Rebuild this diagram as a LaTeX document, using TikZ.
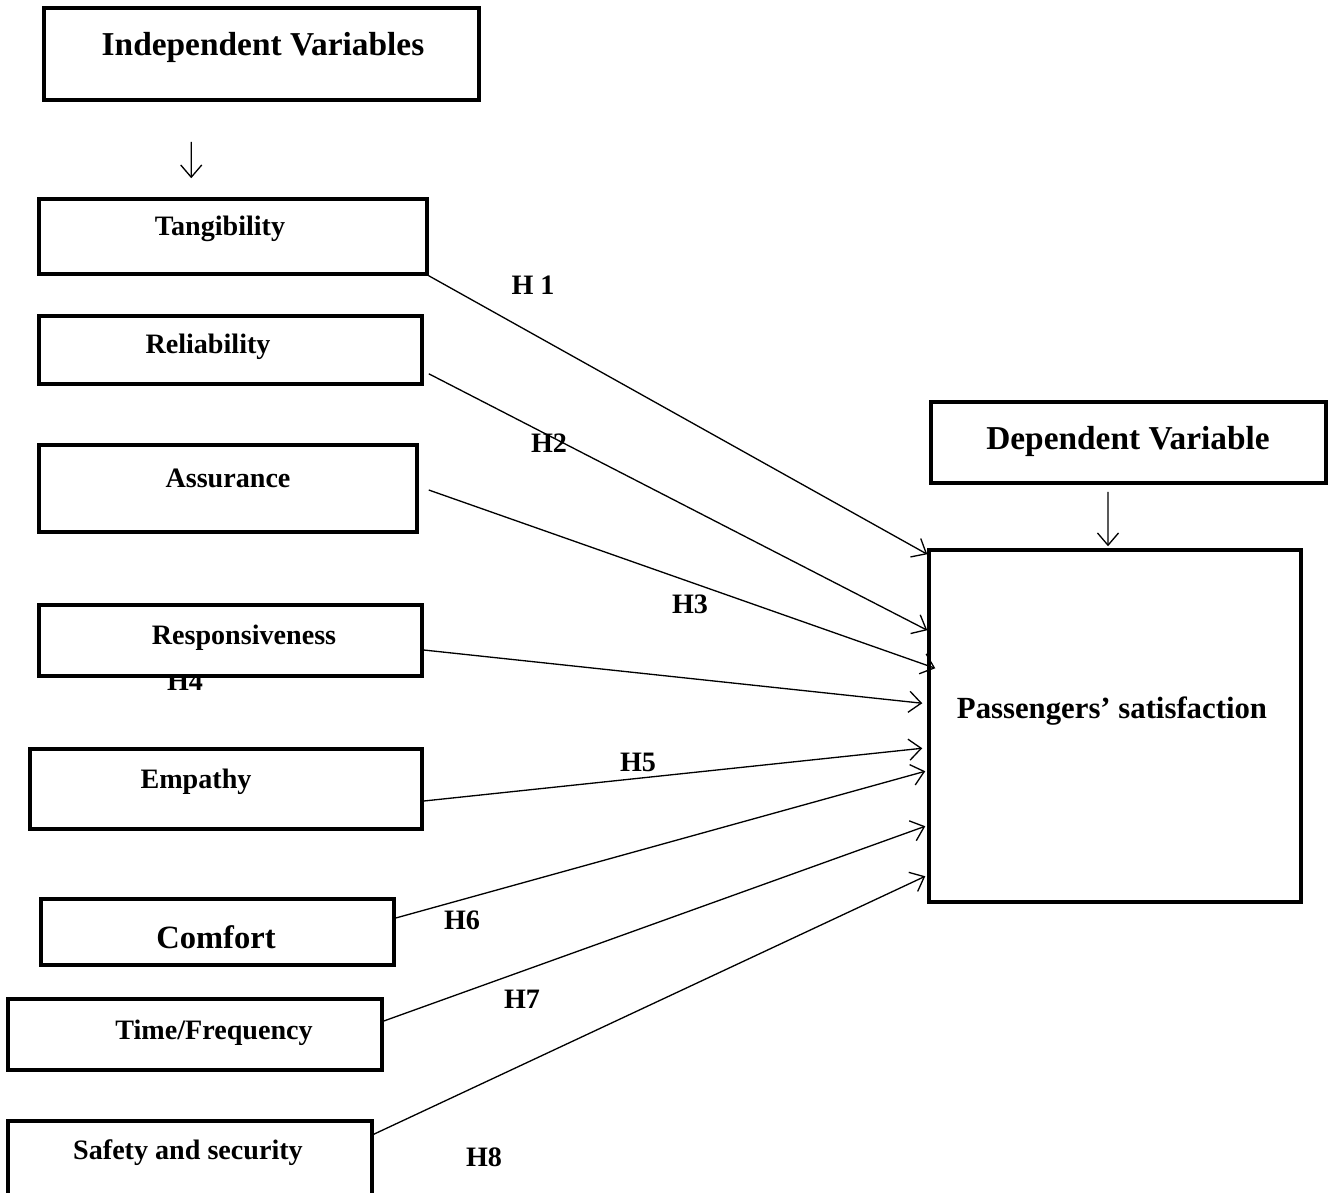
\documentclass[tikz,border=0pt]{standalone}
\usepackage{fontspec}
\setmainfont{Liberation Serif}
\usepackage{tikz}
\usetikzlibrary{calc,arrows.meta}

\begin{document}
\begin{tikzpicture}[
    box/.style={draw, line width=2pt, fill=white, inner sep=0pt},
    txt/.style={font=\bfseries\fontsize{16}{18}\selectfont, inner sep=0pt},
    hyp/.style={font=\bfseries\fontsize{16}{18}\selectfont, inner sep=0pt},
    arr/.style={line width=0.75pt, -{Straight Barb[length=7pt,width=12pt,line width=0.75pt]}}
  ]
            \useasboundingbox (0,0) rectangle (26.56,-23.84);

            % H4 sits under the Responsiveness box
            \node (h4) at (3.7,-13.62) [hyp] {H4};

            \node (ind) at (5.23,-1.08) [box, minimum width=8.7cm, minimum height=1.84cm] {};
            \node (tan) at (4.66,-4.73) [box, minimum width=7.76cm, minimum height=1.5cm] {};
            \node (rel) at (4.61,-7.0) [box, minimum width=7.66cm, minimum height=1.36cm] {};
            \node (ass) at (4.56,-9.77) [box, minimum width=7.56cm, minimum height=1.74cm] {};
            \node (res) at (4.61,-12.81) [box, minimum width=7.66cm, minimum height=1.42cm] {};
            \node (emp) at (4.52,-15.78) [box, minimum width=7.84cm, minimum height=1.6cm] {};
            \node (com) at (4.35,-18.64) [box, minimum width=7.06cm, minimum height=1.32cm] {};
            \node (tim) at (3.9,-20.69) [box, minimum width=7.48cm, minimum height=1.42cm] {};
            \node (saf) at (3.8,-23.3) [box, minimum width=7.28cm, minimum height=1.76cm] {};
            \node (dep) at (22.57,-8.85) [box, minimum width=7.9cm, minimum height=1.62cm] {};
            \node (ps) at (22.3,-14.52) [box, minimum width=7.44cm, minimum height=7.04cm] {};

            \node (indt) at (5.26,-0.94) [txt, font=\bfseries\fontsize{19}{21}\selectfont] {Independent Variables};
            \node (tant) at (4.4,-4.58) [txt] {Tangibility};
            \node (relt) at (4.16,-6.94) [txt] {Reliability};
            \node (asst) at (4.56,-9.56) [txt] {Assurance};
            \node (rest) at (4.88,-12.76) [txt] {Responsiveness};
            \node (empt) at (3.92,-15.64) [txt] {Empathy};
            \node (comt) at (4.32,-18.74) [txt, font=\bfseries\fontsize{18.5}{20}\selectfont] {Comfort};
            \node (timt) at (4.28,-20.66) [txt] {Time/Frequency};
            \node (saft) at (3.76,-23.06) [txt] {Safety and security};
            \node (dept) at (22.56,-8.82) [txt, font=\bfseries\fontsize{19}{21}\selectfont] {Dependent Variable};
            \node (pst) at (22.24,-14.22) [txt, font=\bfseries\fontsize{17.5}{20}\selectfont] {Passengers’ satisfaction};

            \node (h1) at (10.66,-5.7) [hyp] {H 1};
            \node (h2) at (10.98,-8.86) [hyp] {H2};
            \node (h3) at (13.8,-12.08) [hyp] {H3};
            \node (h5) at (12.76,-15.24) [hyp] {H5};
            \node (h6) at (9.24,-18.4) [hyp] {H6};
            \node (h7) at (10.44,-19.98) [hyp] {H7};
            \node (h8) at (9.68,-23.14) [hyp] {H8};

            \draw [arr] ($(ind.south west) + (2.98,-0.8)$) -- ($(tan.north west) + (3.08,0.38)$);
            \draw [arr] ($(dep.south) + (-0.41,-0.14)$) -- ($(ps.north) + (-0.14,0.04)$);

            \draw [arr] (tan.south east) -- ($(ps.north west) + (0,-0.12)$);
            \draw [arr] ($(rel.south east) + (0.1,0.24)$) -- ($(ps.north west) + (0,-1.64)$);
            \draw [arr] ($(ass.east) + (0.2,-0.03)$) -- ($(ps.north west) + (0.16,-2.4)$);
            \draw [arr] ($(res.east) + (0,-0.19)$) -- ($(ps.north west) + (-0.1,-3.1)$);
            \draw [arr] ($(emp.east) + (0,-0.24)$) -- ($(ps.north west) + (-0.1,-4.0)$);
            \draw [arr] ($(com.east) + (0,0.28)$) -- ($(ps.north west) + (-0.04,-4.46)$);
            \draw [arr] ($(tim.east) + (0,0.27)$) -- ($(ps.north west) + (-0.04,-5.56)$);
            \draw [arr] ($(saf.north east) + (0,-0.3)$) -- ($(ps.north west) + (-0.04,-6.56)$);

        \end{tikzpicture}
\end{document}
